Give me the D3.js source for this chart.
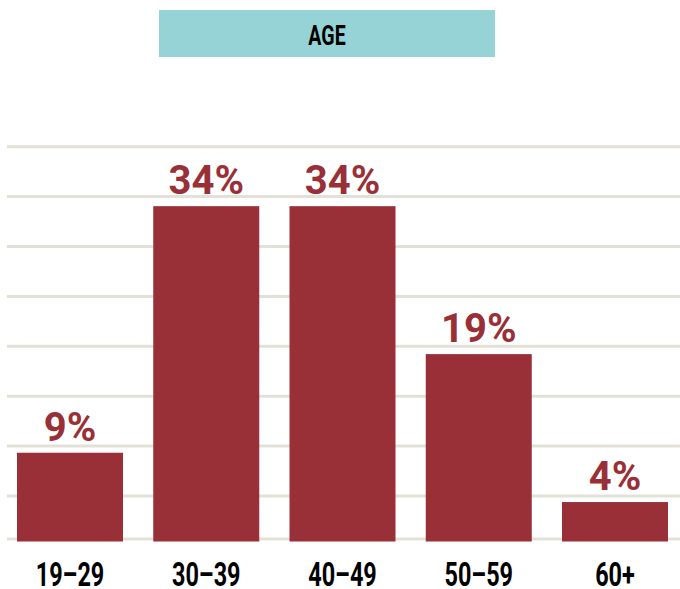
<!DOCTYPE html>
<html>
<head>
<meta charset="utf-8">
<script src="https://cdn.jsdelivr.net/npm/d3@7"></script>
<style>
  html, body { margin: 0; padding: 0; background: #ffffff; }
  svg { display: block; }
</style>
</head>
<body>
<svg id="chart" width="680" height="589"></svg>
<script>
// Age distribution of respondents
const title = "AGE";
const categories = ["19–29", "30–39", "40–49", "50–59", "60+"];
const values = [9, 34, 34, 19, 4];
const valueLabels = ["9%", "34%", "34%", "19%", "4%"];

const W = 680, H = 589;
const barColor = "#9a3037";
const gridColor = "#e3e1d7";
const titleBg = "#95d3d6";

const svg = d3.select("#chart");

// Title banner
svg.append("rect")
  .attr("x", 159).attr("y", 10)
  .attr("width", 336).attr("height", 47)
  .attr("fill", titleBg);

svg.append("text")
  .attr("transform", "translate(327,45) scale(0.7,1)")
  .attr("text-anchor", "middle")
  .attr("font-family", "Roboto, 'DejaVu Sans', sans-serif")
  .attr("font-weight", 700)
  .attr("font-size", 28)
  .attr("fill", "#000")
  .text(title);

// Scales
const x = d3.scaleBand()
  .domain(categories)
  .range([17, 668])
  .paddingInner(0.222)
  .paddingOuter(0);

const y = d3.scaleLinear()
  .domain([0, 40])
  .range([541.5, 147]);

// Background rules: eight evenly spaced lines plus the baseline rule
const rule = d3.scaleLinear().domain([0, 7]).range([146.7, 496]);
const ruleYs = d3.range(8).map(i => rule(i)).concat([539]);

svg.append("g")
  .selectAll("line")
  .data(ruleYs)
  .join("line")
  .attr("x1", 7).attr("x2", W)
  .attr("y1", d => d).attr("y2", d => d)
  .attr("stroke", gridColor)
  .attr("stroke-width", 3);

// Bars
svg.append("g")
  .selectAll("rect")
  .data(categories)
  .join("rect")
  .attr("x", d => x(d))
  .attr("width", x.bandwidth())
  .attr("y", (d, i) => y(values[i]))
  .attr("height", (d, i) => y(0) - y(values[i]))
  .attr("fill", barColor);

// Value labels
svg.append("g")
  .selectAll("text")
  .data(categories)
  .join("text")
  .attr("x", d => x(d) + x.bandwidth() / 2)
  .attr("y", (d, i) => y(values[i]) - 12)
  .attr("text-anchor", "middle")
  .attr("font-family", "Roboto, 'DejaVu Sans', sans-serif")
  .attr("font-weight", 700)
  .attr("font-size", 40)
  .attr("fill", barColor)
  .text((d, i) => valueLabels[i]);

// Category labels (condensed)
svg.append("g")
  .selectAll("text")
  .data(categories)
  .join("text")
  .attr("transform", d => `translate(${x(d) + x.bandwidth() / 2},586) scale(0.7,1)`)
  .attr("text-anchor", "middle")
  .attr("font-family", "Roboto, 'DejaVu Sans', sans-serif")
  .attr("font-weight", 700)
  .attr("font-size", 33.5)
  .attr("fill", "#000")
  .text(d => d);
</script>
</body>
</html>
